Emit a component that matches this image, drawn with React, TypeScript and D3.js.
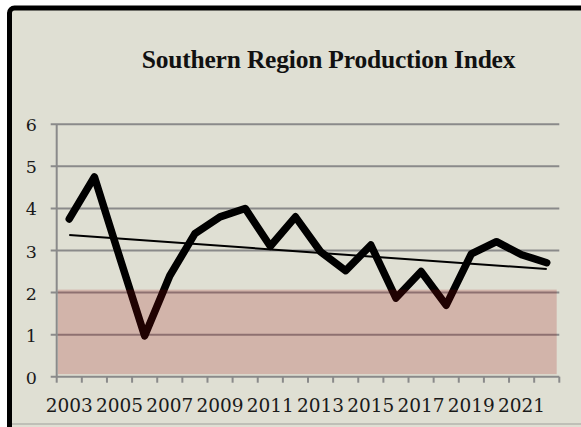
import React from "react";
import * as d3 from "d3";

const years = [
  "2003","2004","2005","2006","2007","2008","2009","2010","2011","2012",
  "2013","2014","2015","2016","2017","2018","2019","2020","2021","2022",
];
const values = [
  3.75, 4.75, 2.85, 0.97, 2.4, 3.4, 3.8, 4.0, 3.1, 3.8,
  2.97, 2.52, 3.13, 1.87, 2.5, 1.7, 2.92, 3.21, 2.9, 2.71,
];
const yTicks = [0, 1, 2, 3, 4, 5, 6];
const xLabelYears = ["2003","2005","2007","2009","2011","2013","2015","2017","2019","2021"];
const band = [0.06, 2.07];
const title = "Southern Region Production Index";

export default function App() {
  const W = 581, H = 427;
  const left = 56.7, right = 559.3, top = 124.3, bottom = 376.7;
  const x = d3.scaleBand<string>().domain(years).range([left, right]).padding(0);
  const y = d3.scaleLinear().domain([0, 6]).range([bottom, top]);
  const cx = (yr: string) => (x(yr) as number) + x.bandwidth() / 2;

  const pts: [number, number][] = values.map((v, i) => [cx(years[i]), y(v)]);
  const line = d3.line<[number, number]>().x(d => d[0]).y(d => d[1]);

  // linear trendline (least squares)
  const n = values.length;
  const idx = values.map((_, i) => i);
  const mx = d3.mean(idx) as number;
  const my = d3.mean(values) as number;
  const slope = d3.sum(idx, i => (i - mx) * (values[i] - my)) / d3.sum(idx, i => (i - mx) ** 2);
  const icpt = my - slope * mx;
  const trend: [number, number][] = [
    [cx(years[0]), y(icpt)],
    [cx(years[n - 1]), y(icpt + slope * (n - 1))],
  ];

  const boundaries = years.map(yr => x(yr) as number).concat([right]);
  const serif = "'DejaVu Serif', serif";

  return (
    <svg width={W} height={H} style={{ position: "absolute", left: 0, top: 0 }}>
      <rect x={0} y={0} width={W} height={H} fill="#ffffff" />
      <rect x={9.5} y={8} width={620} height={460} rx={5} fill="#dfdfd3" stroke="#000" strokeWidth={5} />
      <line x1={12} x2={W} y1={424} y2={424} stroke="#b4b4ae" strokeWidth={1.5} />

      <text x={328.5} y={68} textAnchor="middle" fontFamily="'Liberation Serif', serif" fontWeight="bold"
        fontSize={25.5} fill="#111" letterSpacing={-0.2}>{title}</text>

      {yTicks.map(t => (
        <g key={t}>
          <line x1={left - 6} x2={right} y1={y(t)} y2={y(t)} stroke="#8a8a8a" strokeWidth={2} />
          <text x={37} y={y(t) + 7} textAnchor="end" fontFamily={serif} fontSize={17.5} fill="#1a1a1a">{t}</text>
        </g>
      ))}
      <line x1={left} x2={left} y1={top} y2={bottom} stroke="#8a8a8a" strokeWidth={2} />
      {boundaries.map((b, i) => (
        <line key={i} x1={b} x2={b} y1={bottom} y2={bottom + 6} stroke="#8a8a8a" strokeWidth={2} />
      ))}
      {xLabelYears.map(yr => (
        <text key={yr} x={cx(yr)} y={412} textAnchor="middle" fontFamily={serif} fontSize={18.5} fill="#1a1a1a">{yr}</text>
      ))}

      <path d={line(trend) as string} fill="none" stroke="#000" strokeWidth={2} />
      <path d={line(pts) as string} fill="none" stroke="#000" strokeWidth={7.5}
        strokeLinejoin="round" strokeLinecap="round" />

      <rect x={left + 1.3} y={y(band[1])} width={right - left - 3.9} height={y(band[0]) - y(band[1])}
        fill="rgb(160,12,8)" fillOpacity={0.2} />
    </svg>
  );
}
